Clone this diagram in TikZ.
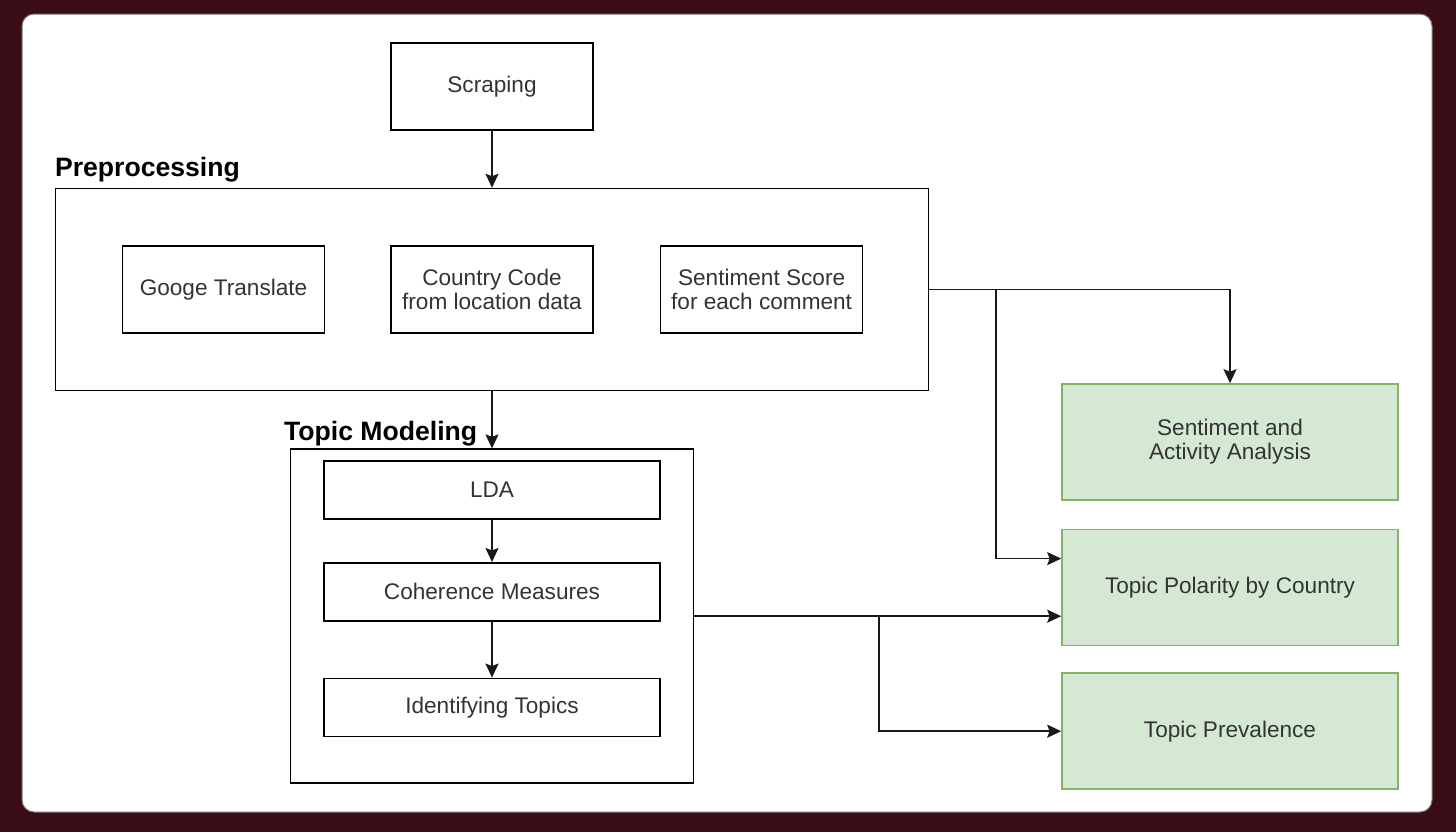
\documentclass[tikz,border=0pt]{standalone}
\usepackage{fontspec}
\setmainfont{Liberation Sans}
\usepackage{tikz}
\usetikzlibrary{arrows.meta,positioning,calc}
\definecolor{backdrop}{HTML}{3A0C16}
\definecolor{boxtext}{HTML}{333333}
\definecolor{greenfill}{HTML}{D5E8D4}
\definecolor{greenline}{HTML}{82B366}
\tikzset{
    %Define standard arrow tip
    >={Stealth[length=7pt,width=6.5pt,inset=1.2pt]},
    %Define style for headings
    title/.style={
           font=\fontsize{13.3}{15}\selectfont\bfseries, inner sep=0pt},
    % Define arrow style
    pil/.style={
           ->,
           line width=0.85pt,
           draw=black!90}
}

\begin{document}
\begin{tikzpicture}[x=0.5pt, y=-0.5pt, node distance=0pt]
	\tikzstyle{stepbox} = [rectangle, draw, line width=0.8pt, minimum width=101pt, minimum height=43.5pt, inner sep=0pt, align=center, text=boxtext, font=\fontsize{11.3}{12}\selectfont]

	\tikzstyle{frame} = [rectangle, draw, line width=0.8pt, inner sep=0pt]

	\tikzstyle{inner} = [stepbox, minimum width=168pt, minimum height=29pt]

	\tikzstyle{result} = [stepbox, fill=greenfill, draw=greenline, minimum width=168pt, minimum height=58pt]

	% Backdrop and panel
	\fill[backdrop] (0,0) rectangle (1456,832);
	\filldraw[fill=white, draw=black!55, line width=0.5pt, rounded corners=6pt] (22,14) rectangle (1432,812);

	% Scraping
	\node[stepbox](scraping) at (492,86.5){Scraping};

	% Preprocessing
	\node[frame, minimum width=436.5pt, minimum height=101pt, below=28.5pt of scraping](prep){};
	\node[title, above=5.5pt of prep.north west, anchor=base west](preptitle){Preprocessing};
	\node[stepbox, right=33.5pt of prep.west, anchor=west](translate){Googe Translate};
	\node[stepbox](country) at (prep.center){Country Code\\from location data};
	\node[stepbox, right=33pt of country](sentscore){Sentiment Score\\for each comment};

	% Topic modeling
	\node[frame, minimum width=201.5pt, minimum height=167pt, below=28.5pt of prep](topic){};
	\node[title, above=4pt of topic.north west, anchor=base west, xshift=-3pt](topictitle){Topic Modeling};
	\node[inner, below=6pt of topic.north, anchor=north](lda){LDA};
	\node[inner, below=21pt of lda](coherence){Coherence Measures};
	\node[inner, below=28pt of coherence](identify){Identifying Topics};

	% Results
	\node[result](sentact) at (1230,442){Sentiment and\\Activity Analysis};
	\node[result, below=14pt of sentact](polarity){Topic Polarity by Country};
	\node[result, below=13pt of polarity](prevalence){Topic Prevalence};

	\coordinate (prepsplit) at ([xshift=33.5pt]prep.east);
	\coordinate (topicsplit) at ([xshift=92.5pt]topic.east);

	\draw[pil] (scraping.south) -- (prep.north);
	\draw[pil] (prep.south) -- (topic.north);
	\draw[pil] (lda.south) -- (coherence.north);
	\draw[pil] (coherence.south) -- (identify.north);
	\draw[pil] (prep.east) -| (sentact.north);
	\draw[pil] (prepsplit) |- ([yshift=14.5pt]polarity.west);
	\draw[pil] (topic.east) -- (topic.east -| polarity.west);
	\draw[pil] (topicsplit) |- (prevalence.west);

\end{tikzpicture}
\end{document}
